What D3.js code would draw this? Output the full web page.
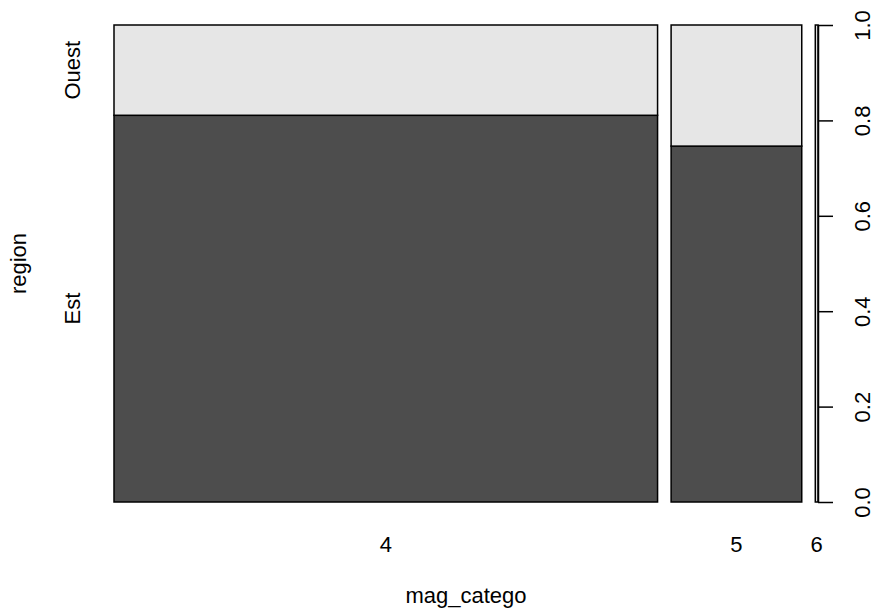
<!DOCTYPE html>
<html>
<head>
<meta charset="utf-8">
<script src="https://cdn.jsdelivr.net/npm/d3@7"></script>
<style>
  html, body { margin: 0; padding: 0; background: #fff; }
  svg text { font-family: "Liberation Sans", Arial, Helvetica, sans-serif; fill: #000; }
</style>
</head>
<body>
<svg id="chart" width="876" height="613"></svg>
<script>
// Data (spineplot of region by mag_catego)
const categories = ["4", "5", "6"];
const counts = [803, 193, 4];          // observations per magnitude category
const estCounts = [651, 144, 0];       // "Est" observations per category
const regionLevels = ["Est", "Ouest"];
const yTicks = [0, 0.2, 0.4, 0.6, 0.8, 1.0];
const xTitle = "mag_catego";
const yTitle = "region";
const colors = ["#4D4D4D", "#E6E6E6"];

const off = 0.02;
const total = d3.sum(counts);
const widths = counts.map(c => c / total);
const xStart = [];
let acc = 0;
widths.forEach((w, i) => { xStart.push(acc); acc += w + off; });

const svg = d3.select("#chart");
const font = 22;

const x = d3.scaleLinear().domain([0, 1 + off * (categories.length - 1)]).range([114, 818]);
const y = d3.scaleLinear().domain([0, 1]).range([502, 25]);

// build rectangles
const cells = [];
categories.forEach((cat, i) => {
  const pEst = estCounts[i] / counts[i];
  cells.push({ x0: xStart[i], x1: xStart[i] + widths[i], y0: 0, y1: pEst, fill: colors[0] });
  cells.push({ x0: xStart[i], x1: xStart[i] + widths[i], y0: pEst, y1: 1, fill: colors[1] });
});

svg.append("g").selectAll("rect").data(cells.filter(d => d.y1 > d.y0)).join("rect")
  .attr("x", d => x(d.x0))
  .attr("width", d => Math.max(0, x(d.x1) - x(d.x0)))
  .attr("y", d => y(d.y1))
  .attr("height", d => y(d.y0) - y(d.y1))
  .attr("fill", d => d.fill)
  .attr("stroke", "#000")
  .attr("stroke-width", 1.5);

// right axis
const ax = svg.append("g").attr("transform", `translate(${x.range()[1]},0)`)
  .call(d3.axisRight(y).tickValues(yTicks).tickFormat(d3.format(".1f")).tickSize(15).tickSizeOuter(0));
ax.select(".domain").attr("stroke", "#000").attr("stroke-width", 1.5);
ax.selectAll(".tick line").attr("stroke", "#000").attr("stroke-width", 1.5);
ax.selectAll(".tick text")
  .attr("x", 0).attr("y", 52).attr("dy", null)
  .attr("transform", "rotate(-90)")
  .attr("text-anchor", "middle")
  .style("font-size", font + "px");
ax.attr("font-family", null).attr("font-size", null);

// x category labels
svg.append("g").selectAll("text").data(categories).join("text")
  .attr("x", (d, i) => x(xStart[i] + widths[i] / 2))
  .attr("y", 552)
  .attr("text-anchor", "middle")
  .style("font-size", font + "px")
  .text(d => d);

// y level labels (positions from first column)
const p0 = estCounts[0] / counts[0];
const yMid = [p0 / 2, (p0 + 1) / 2];
svg.append("g").selectAll("text").data(regionLevels).join("text")
  .attr("transform", (d, i) => `translate(80,${y(yMid[i])}) rotate(-90)`)
  .attr("text-anchor", "middle")
  .style("font-size", font + "px")
  .text(d => d);

// titles
svg.append("text").attr("x", (x.range()[0] + x.range()[1]) / 2).attr("y", 603)
  .attr("text-anchor", "middle").style("font-size", font + "px").text(xTitle);
svg.append("text").attr("transform", `translate(26,${(y.range()[0] + y.range()[1]) / 2}) rotate(-90)`)
  .attr("text-anchor", "middle").style("font-size", font + "px").text(yTitle);
</script>
</body>
</html>
